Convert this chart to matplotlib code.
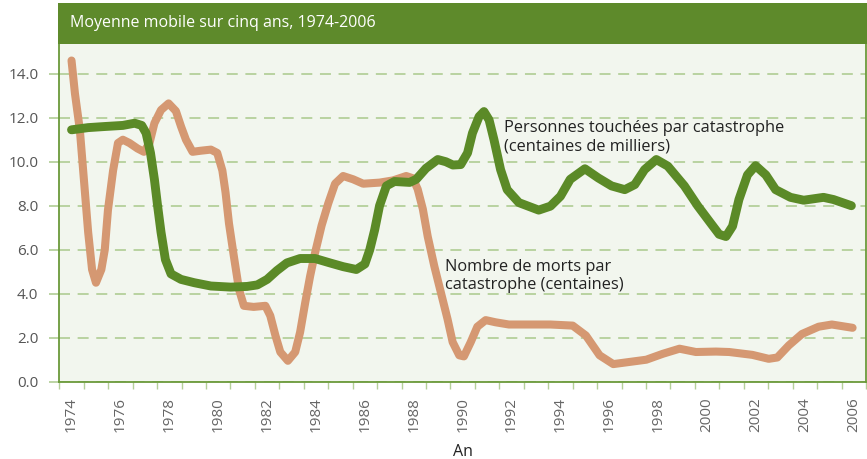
import matplotlib

matplotlib.use("Agg")
import matplotlib.pyplot as plt
from matplotlib.patches import Rectangle

# --- values (5-year moving averages) ---
deaths_years = [
    1974.0, 1974.14, 1974.34, 1974.52, 1974.68, 1974.84, 1975.0, 1975.22, 1975.36,
    1975.49, 1975.7, 1975.9, 1976.1, 1976.37, 1976.7, 1976.96, 1977.19, 1977.39,
    1977.66, 1977.97, 1978.27, 1978.48, 1978.68, 1978.95, 1979.29, 1979.7, 1979.96,
    1980.17, 1980.3, 1980.44, 1980.64, 1980.85, 1981.05, 1981.45, 1981.93, 1982.13,
    1982.34, 1982.54, 1982.85, 1983.15, 1983.35, 1983.56, 1983.76, 1983.96, 1984.23,
    1984.5, 1984.78, 1985.11, 1985.52, 1985.93, 1986.6, 1987.15, 1987.69, 1987.96,
    1988.16, 1988.37, 1988.57, 1988.84, 1989.11, 1989.38, 1989.59, 1989.86, 1990.05,
    1990.33, 1990.6, 1990.94, 1991.35, 1991.89, 1992.7, 1993.59, 1994.5, 1995.04,
    1995.6, 1996.16, 1996.97, 1997.51, 1998.19, 1998.87, 1999.54, 2000.36, 2000.9,
    2001.85, 2002.52, 2002.87, 2003.34, 2003.88, 2004.56, 2005.1, 2005.95,
]
deaths_values = [
    14.6, 13.1, 11.45, 9.0, 6.8, 5.1, 4.5, 5.1, 6.0,
    7.8, 9.6, 10.85, 11.0, 10.85, 10.6, 10.45, 10.85, 11.75,
    12.35, 12.65, 12.3, 11.6, 11.0, 10.45, 10.5, 10.55, 10.4,
    9.6, 8.6, 7.2, 5.7, 4.2, 3.45, 3.4, 3.45, 3.0,
    2.1, 1.35, 0.95, 1.35, 2.25, 3.6, 4.8, 5.85, 7.1,
    8.1, 9.0, 9.35, 9.2, 9.0, 9.05, 9.15, 9.35, 9.25,
    8.75, 7.85, 6.6, 5.25, 4.05, 2.85, 1.8, 1.2, 1.15,
    1.8, 2.5, 2.8, 2.7, 2.6, 2.6, 2.6, 2.55, 2.1,
    1.2, 0.8, 0.92, 1.0, 1.27, 1.5, 1.35, 1.37, 1.35,
    1.22, 1.04, 1.1, 1.65, 2.17, 2.5, 2.6, 2.45,
]

affected_years = [
    1974.0, 1974.68, 1975.36, 1976.1, 1976.58, 1976.87, 1977.05, 1977.23, 1977.39,
    1977.52, 1977.66, 1977.84, 1978.07, 1978.48, 1979.02, 1979.7, 1980.51, 1981.18,
    1981.6, 1982.0, 1982.4, 1982.81, 1983.35, 1983.96, 1984.57, 1985.11, 1985.65,
    1986.0, 1986.2, 1986.4, 1986.6, 1986.88, 1987.21, 1987.83, 1988.1, 1988.5,
    1988.98, 1989.31, 1989.6, 1989.92, 1990.2, 1990.4, 1990.67, 1990.87, 1991.08,
    1991.28, 1991.55, 1991.82, 1992.3, 1993.11, 1993.59, 1994.0, 1994.4, 1995.0,
    1995.55, 1996.09, 1996.63, 1997.04, 1997.44, 1997.92, 1998.39, 1999.07, 1999.61,
    2000.15, 2000.49, 2000.77, 2001.04, 2001.3, 2001.65, 2001.98, 2002.4, 2002.8,
    2003.41, 2003.95, 2004.76, 2005.17, 2005.9,
]
affected_values = [
    11.45, 11.55, 11.6, 11.65, 11.75, 11.65, 11.3, 10.4, 9.2,
    8.0, 6.8, 5.55, 4.9, 4.65, 4.5, 4.35, 4.3, 4.33,
    4.4, 4.65, 5.05, 5.4, 5.6, 5.6, 5.4, 5.23, 5.1,
    5.35, 6.0, 6.9, 8.0, 8.9, 9.1, 9.06, 9.2, 9.7,
    10.1, 10.0, 9.85, 9.87, 10.4, 11.3, 12.05, 12.28, 11.9,
    11.0, 9.64, 8.73, 8.14, 7.8, 7.98, 8.43, 9.2, 9.68,
    9.26, 8.9, 8.73, 8.96, 9.64, 10.1, 9.8, 8.9, 8.0,
    7.2, 6.7, 6.6, 7.07, 8.28, 9.4, 9.82, 9.4, 8.73,
    8.38, 8.25, 8.38, 8.28, 8.0,
]

year_labels = list(range(1974, 2007, 2))
y_ticks = [0, 2, 4, 6, 8, 10, 12, 14]

title = "Moyenne mobile sur cinq ans, 1974-2006"
affected_label = "Personnes touchées par catastrophe\n(centaines de milliers)"
deaths_label = "Nombre de morts par\ncatastrophe (centaines)"

GREEN = "#5b8a27"
HEADER = "#5e8a2b"
ORANGE = "#d59872"
GRID = "#a9c98c"
BG = "#f2f6ee"

plt.rcParams["font.family"] = ["Open Sans", "DejaVu Sans"]

fig = plt.figure(figsize=(8.67, 4.59), dpi=100)
ax = fig.add_axes([0.0684, 0.1684, 0.9305, 0.7357])
ax.set_facecolor(BG)

ax.plot(deaths_years, deaths_values, color=ORANGE, lw=5.8,
        solid_capstyle="round", solid_joinstyle="round", zorder=3)
ax.plot(affected_years, affected_values, color=GREEN, lw=6.4,
        solid_capstyle="round", solid_joinstyle="round", zorder=4)

ax.set_xlim(1973.5, 2006.3)
ax.set_ylim(0.1, 15.35)

ax.set_yticks(y_ticks)
ax.set_yticklabels([f"{v:.1f}" for v in y_ticks])
ax.yaxis.grid(True, color=GRID, lw=1.1, linestyle=(0, (7.2, 5.0)))
ax.set_axisbelow(True)

ax.set_xticks(year_labels)
ax.set_xticklabels([str(y) for y in year_labels], rotation=90)
ax.set_xticks([y + 0.5 for y in range(1973, 2007)], minor=True)
ax.tick_params(axis="x", which="major", length=0, pad=11, labelsize=11,
               labelcolor="#666666")
ax.tick_params(axis="x", which="minor", length=5, width=1, color="#b5cf9a",
               direction="out")
ax.tick_params(axis="y", length=7, width=1.1, color=GRID, pad=8, labelsize=11,
               labelcolor="#555555")

for side in ("left", "bottom", "right"):
    ax.spines[side].set_color("#6b9a3a")
    ax.spines[side].set_linewidth(1.3)
ax.spines["top"].set_visible(False)

ax.set_xlabel("An", fontsize=11.5, color="#222222", labelpad=9)

ax.text(1991.7, 11.1, affected_label, fontsize=11.8, color="#222222",
        ha="left", va="center", linespacing=1.2, zorder=5)
ax.text(1989.26, 4.8, deaths_label, fontsize=11.8, color="#222222",
        ha="left", va="center", linespacing=1.2, zorder=5)

# green header band above the plot area
fig.patches.append(Rectangle((58 / 867, 1 - 44 / 459), 1 - 58 / 867, 41 / 459,
                             transform=fig.transFigure, facecolor=HEADER,
                             edgecolor="none"))
fig.text(70 / 867, 1 - 23 / 459, title, color="white", fontsize=11.5,
         ha="left", va="center")

fig.savefig("out.png", dpi=100)
